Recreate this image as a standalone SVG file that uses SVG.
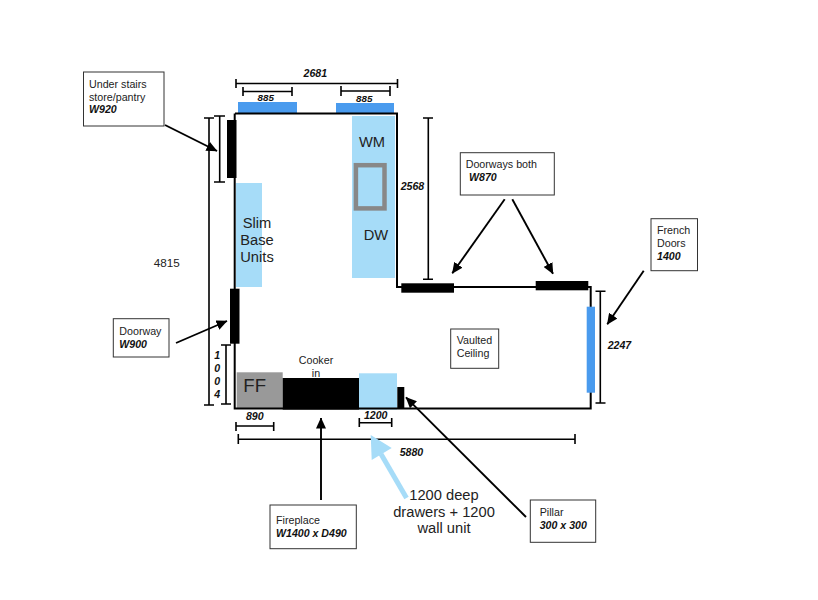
<svg xmlns="http://www.w3.org/2000/svg" width="818" height="600" viewBox="0 0 818 600">
<style>
text{font-family:"Liberation Sans",Arial,sans-serif;fill:#222}
.l{font-size:10.7px}
.b{font-size:10.6px;font-weight:bold;font-style:italic;fill:#111}
.big{font-size:14.7px}
.c{text-anchor:middle}
.box{fill:#fff;stroke:#333;stroke-width:1}
.wall{fill:none;stroke:#000;stroke-width:2}
.dim{fill:none;stroke:#000;stroke-width:1.6}
.blk{fill:#000}
.sky{fill:#a6dcf8}
.win{fill:#4a9bee}
.ar{stroke:#000;stroke-width:1.9;fill:none;marker-end:url(#h)}
</style>
<defs>
<marker id="h" markerUnits="userSpaceOnUse" markerWidth="11" markerHeight="10" refX="10.500" refY="5" orient="auto"><path d="M0 0L11 5L0 10Z" fill="#000"/></marker>
</defs>
<rect width="818" height="600" fill="#fff"/>
<g id="fittings">
<rect class="sky" x="236" y="183" width="26" height="104"/>
<rect class="sky" x="352" y="116" width="43" height="162"/>
<rect class="win" x="238" y="102" width="59" height="11"/>
<rect class="win" x="336" y="103" width="58" height="10"/>
<rect x="355.900" y="165.200" width="28.600" height="43.200" fill="none" stroke="#888" stroke-width="4.500"/>
<rect x="236.700" y="372.300" width="46" height="36.700" fill="#999"/>
<rect class="blk" x="282.700" y="378" width="76.300" height="31.600"/>
<rect class="sky" x="359" y="373.300" width="38" height="36.300"/>
<rect class="blk" x="397.300" y="387" width="7" height="22"/>
</g>
<g id="walls">
<path class="wall" d="M235 113.500H397V287H590.700V408.400H234.700V113.500"/>
</g>
<g id="openings">
<rect class="blk" x="227" y="120" width="9.500" height="58"/>
<rect class="blk" x="230" y="288.700" width="9.500" height="55"/>
<rect class="blk" x="401.300" y="283.300" width="52.700" height="9.400"/>
<rect class="blk" x="535.700" y="281" width="52.600" height="9.300"/>
<rect class="win" x="586.700" y="306.700" width="8.300" height="86"/>
</g>
<g id="dimensions">
<path class="dim" d="M236 83.500H397.500M236 79V88M397.500 79V88"/>
<path class="dim" d="M243 91.500H292M243 87V96M292 87V96"/>
<path class="dim" d="M341 91H390M341 86V96M390 86V96"/>
<path class="dim" d="M219.700 116V182M214 116H225M214 182H225"/>
<path class="dim" d="M209 118V405M204 118H214M204 405H214"/>
<path class="dim" d="M226 345V404M221 345H231M221 404H231"/>
<path class="dim" d="M428.300 118V279.300M423 118H433M423 279.300H433"/>
<path class="dim" d="M600.300 291.300V403M595.500 291.300H605.500M595.500 403H605.500"/>
<path class="dim" d="M236 426H273.700M236 422V431M273.700 422V431"/>
<path class="dim" d="M359.300 422.700H391.700M359.300 418V427M391.700 418V427"/>
<path class="dim" d="M238.300 439.300H575M238.300 434V444M575 434V444"/>
</g>
<g id="connectors">
<path class="ar" d="M165 125L217 151"/>
<path class="ar" d="M176 343L227 321"/>
<path class="ar" d="M504.700 199.300L452.300 273.300"/>
<path class="ar" d="M512.300 199.300L553 273.700"/>
<path class="ar" d="M643.700 270.700L607.300 324.300"/>
<path class="ar" d="M321 500V418"/>
<path class="ar" d="M526 517L406 397.300"/>
<path d="M406.500 498L381 454" stroke="#a6dcf8" stroke-width="5" fill="none"/>
<path d="M370.700 435L371.700 460L391.700 448Z" fill="#a6dcf8"/>
</g>
<g id="under-stairs"><rect class="box" x="83.500" y="72" width="80.500" height="54"/><text class="l" x="89" y="88">Under stairs</text><text class="l" x="89" y="100.700">store/pantry</text><text class="b" x="89" y="113.300">W920</text></g>
<g id="doorway"><rect class="box" x="113.300" y="318.700" width="55.700" height="38.300"/><text class="l" x="119.300" y="335">Doorway</text><text class="b" x="119.300" y="347.700">W900</text></g>
<g id="doorways-both"><rect class="box" x="460.300" y="152.700" width="94" height="42.300"/><text class="l" x="465.700" y="168.300">Doorways both</text><text class="b" x="469" y="181.300">W870</text></g>
<g id="french-doors"><rect class="box" x="651" y="218.700" width="46.500" height="52"/><text class="l" x="657" y="234.300">French</text><text class="l" x="657" y="247">Doors</text><text class="b" x="657" y="259.700">1400</text></g>
<g id="vaulted"><rect class="box" x="450.700" y="329" width="48" height="39.300"/><text class="l" x="456.700" y="344">Vaulted</text><text class="l" x="456.700" y="357.300">Ceiling</text></g>
<g id="fireplace"><rect class="box" x="270" y="505" width="86.300" height="43.700"/><text class="l" x="276" y="524.300">Fireplace</text><text class="b" x="276" y="537">W1400 x D490</text></g>
<g id="pillar"><rect class="box" x="530.300" y="500" width="65.400" height="42.300"/><text class="l" x="539.700" y="516">Pillar</text><text class="b" x="539.700" y="529.300">300 x 300</text></g>
<g id="labels">
<text class="b c" x="315.300" y="76.700">2681</text>
<text class="b c" x="265.700" y="100.700" style="font-size:9.800px">885</text>
<text class="b c" x="364.300" y="101.700" style="font-size:9.800px">885</text>
<text class="b" x="400.700" y="190">2568</text>
<text class="b" x="607.700" y="349">2247</text>
<text class="b c" x="254.800" y="420">890</text>
<text class="b c" x="375.700" y="419.300">1200</text>
<text class="b" x="399.700" y="456.300">5880</text>
<text class="b c" x="217.300" y="359.300">1</text>
<text class="b c" x="217.300" y="372.300">0</text>
<text class="b c" x="217.300" y="385.300">0</text>
<text class="b c" x="217.300" y="398">4</text>
<text x="153.700" y="267.300" style="font-size:11.700px">4815</text>
<text class="big c" x="257" y="227.700">Slim</text>
<text class="big c" x="257" y="245">Base</text>
<text class="big c" x="257" y="262.300">Units</text>
<text class="big" x="359" y="147">WM</text>
<text class="big" x="363.700" y="239.700">DW</text>
<text x="243.300" y="392" style="font-size:18.600px">FF</text>
<text class="l c" x="316" y="364">Cooker</text>
<text class="l c" x="316" y="376.700">in</text>
<text class="big c" x="444" y="500">1200 deep</text>
<text class="big c" x="444" y="516.700">drawers + 1200</text>
<text class="big c" x="444" y="533">wall unit</text>
</g>
</svg>
